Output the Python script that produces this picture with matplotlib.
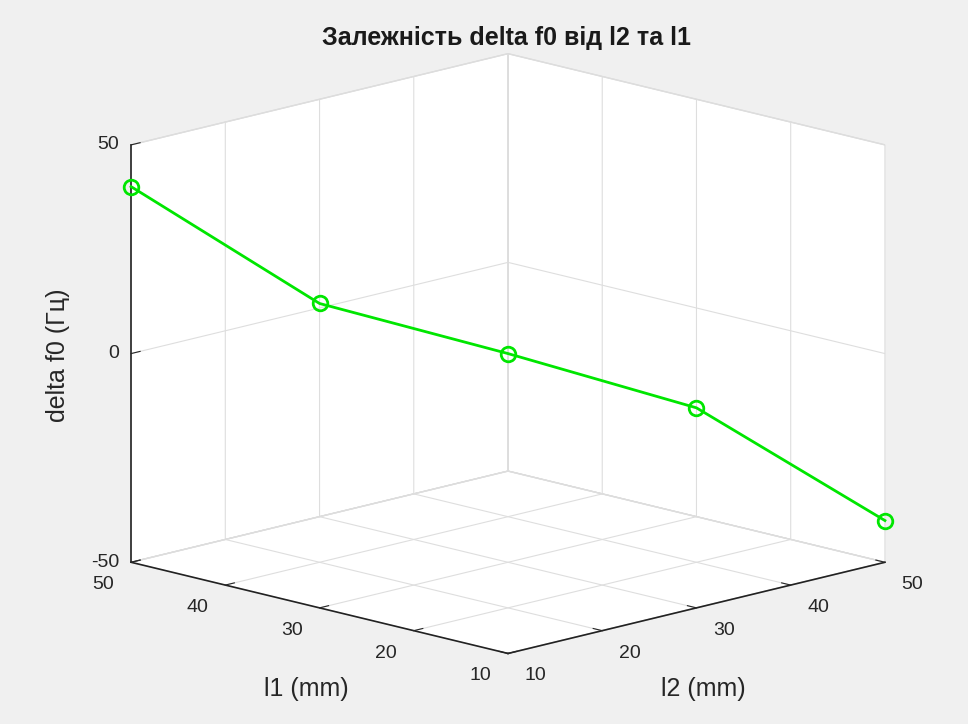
import numpy as np
import matplotlib.pyplot as plt

plt.rcParams['font.family'] = ['Liberation Sans', 'DejaVu Sans']
plt.rcParams['axes.unicode_minus'] = False
plt.rcParams['grid.color'] = '#dedede'
plt.rcParams['grid.linewidth'] = 0.8

# дані
l2 = [10, 20, 30, 40, 50]
l1 = [50, 40, 30, 20, 10]
delta_f0 = [40, 12, 0, -13, -40]

xy_ticks = [10, 20, 30, 40, 50]
z_ticks = [-50, 0, 50]

fig = plt.figure(figsize=(9.68, 7.24), dpi=100, facecolor='#f0f0f0')
ax = fig.add_axes([0.0655, 0.0392, 0.9, 0.92], projection='3d')
ax.set_facecolor((0, 0, 0, 0))
ax.set_proj_type('ortho')
ax.view_init(elev=14, azim=-135)
ax.set_box_aspect((1, 1, 0.807), zoom=1.265)

line, = ax.plot(l2, l1, delta_f0, '-o', color='#00e600', lw=2, ms=10.5,
                mfc='none', mew=2)
line.set_clip_on(False)

ax.set_xlim(10, 50)
ax.set_ylim(10, 50)
ax.set_zlim(-50, 50)
ax.set_xticks(xy_ticks)
ax.set_yticks(xy_ticks)
ax.set_zticks(z_ticks)

for a in (ax.xaxis, ax.yaxis, ax.zaxis):
    a.set_pane_color((1, 1, 1, 1))
    a.pane.set_edgecolor('#d8d8d8')
    a.line.set_color('#222222')
    a.line.set_linewidth(1.2)
    a._axinfo['tick']['inward_factor'] = 0.0
    a._axinfo['tick']['outward_factor'] = 0.3
ax.tick_params(labelsize=14, colors='#262626')
ax.tick_params(axis='x', pad=3)
ax.tick_params(axis='y', pad=3)
ax.tick_params(axis='z', pad=-4)

for t in ax.xaxis.get_ticklabels():
    t.set_ha('left')
    t.set_va('center')
for t in ax.yaxis.get_ticklabels():
    t.set_ha('right')
    t.set_va('center')
for t in ax.zaxis.get_ticklabels():
    t.set_ha('right')
    t.set_va('center')

fig.text(0.523, 0.948, 'Залежність delta f0 від l2 та l1', ha='center',
         va='center', fontsize=18, fontweight='bold', color='#1a1a1a')
fig.text(0.316, 0.049, 'l1 (mm)', ha='center', va='center', fontsize=18,
         color='#262626')
fig.text(0.727, 0.049, 'l2 (mm)', ha='center', va='center', fontsize=18,
         color='#262626')
fig.text(0.06, 0.51, 'delta f0 (Гц)', ha='center', va='center', fontsize=18,
         rotation=90, color='#262626')

fig.savefig('out.png', dpi=100, facecolor=fig.get_facecolor())
